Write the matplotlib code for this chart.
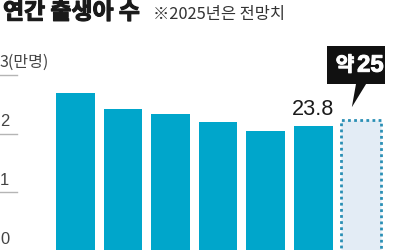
import matplotlib
matplotlib.use("Agg")
import matplotlib.pyplot as plt
from matplotlib.patches import FancyBboxPatch, Polygon
from matplotlib import font_manager as fm
import matplotlib.patheffects as pe

# ---- data ----
bar_values = [2.70, 2.42, 2.33, 2.20, 2.05, 2.13]   # axis units (as drawn)
forecast_value = 2.23
last_label = "23.8"
forecast_label = "25"
yticks = [0, 1, 2, 3]
ytick_labels = ["0", "1", "2", "3(만명)"]
title = "연간 출생아 수"
subtitle = "※2025년은 전망치"


def has_font(name):
    try:
        fm.findfont(fm.FontProperties(family=name), fallback_to_default=False)
        return True
    except Exception:
        return False


NARROW_OK = has_font("Liberation Sans Narrow")
LAT = "Liberation Sans Narrow" if NARROW_OK else "Liberation Sans"
scale = 1.0 if NARROW_OK else 0.82
NUM = [LAT, "Noto Sans CJK KR"]
KR = ["Noto Sans CJK KR", "DejaVu Sans"]
plt.rcParams["font.family"] = NUM

W, H = 400, 250
fig = plt.figure(figsize=(4, 2.5), dpi=100)
ax = fig.add_axes([0, 0, 1, 1])
ax.set_axis_off()

# pixel mapping: center of bar i at 75.3 + 47.6*i ; value v at 251 - 58.7*v
x0, dx = 75.3, 47.6
y0, dy = 251.0, 58.7
ax.set_xlim((0 - x0) / dx, (W - x0) / dx)
ax.set_ylim((y0 - H) / dy, y0 / dy)

bar_color = "#00a6cb"
n = len(bar_values)
xs = list(range(n))
ax.bar(xs, bar_values, width=0.81, color=bar_color, zorder=2)

# forecast bar (dotted)
ax.bar([n], [forecast_value], width=0.83, color="#e3ecf5", edgecolor="#2a8fb5",
       linewidth=2.0, linestyle=(0, (1, 1.2)), zorder=2)

# y ticks: short lines + labels
for t, lab in zip(yticks, ytick_labels):
    ax.plot([(0 - x0) / dx, (17 - x0) / dx], [t, t], color="#b5b5b5", lw=1.0,
            zorder=1)
    if lab.isdigit():
        ax.text((0 - x0) / dx, t + 0.07, lab, ha="left", va="bottom",
                fontsize=14.5 * scale, color="#444444", family=NUM)
    else:
        ax.text((0 - x0) / dx, t + 0.07, lab, ha="left", va="bottom",
                fontsize=11.5, color="#444444", family=KR)

# value label for last actual bar
ax.text(n - 1, bar_values[-1] + 0.11, last_label, ha="center", va="bottom",
        fontsize=19 * scale, color="#1a1a1a", family=NUM)

# callout box
bx0, bx1 = n - 0.72, n + 0.5
by0, by1 = forecast_value + 0.62, forecast_value + 1.27
box = FancyBboxPatch((bx0, by0), bx1 - bx0, by1 - by0,
                     boxstyle="square,pad=0", facecolor="#111111",
                     edgecolor="none", zorder=4)
ax.add_patch(box)
tip = (n - 0.19, forecast_value + 0.22)
ax.add_patch(Polygon([(n + 0.12, by0 + 0.01), (n - 0.1, by0 + 0.01), tip],
                     closed=True, facecolor="#111111", edgecolor="none", zorder=4))
ymid = (by0 + by1) / 2
heavy_w = [pe.withStroke(linewidth=0.7, foreground="white")]
ax.text(n - 0.14, ymid, "약", ha="right", va="center", fontsize=14.5,
        fontweight="bold", color="white", family=KR, zorder=5, path_effects=heavy_w)
ax.text(n - 0.08, ymid - 0.01, forecast_label, ha="left", va="center",
        fontsize=21 * scale, fontweight="bold", color="white", family=NUM, zorder=5,
        path_effects=heavy_w)

# titles
fig.text(3 / W, 1 - 1 / H, title, ha="left", va="top", fontsize=16.5,
         fontweight="bold", color="#1a1a1a", family=KR,
         path_effects=[pe.withStroke(linewidth=0.8, foreground="#1a1a1a")])
fig.text(153 / W, 1 - 6 / H, subtitle, ha="left", va="top", fontsize=11.8,
         color="#333333", family=KR)

fig.savefig("out.png", dpi=100)
